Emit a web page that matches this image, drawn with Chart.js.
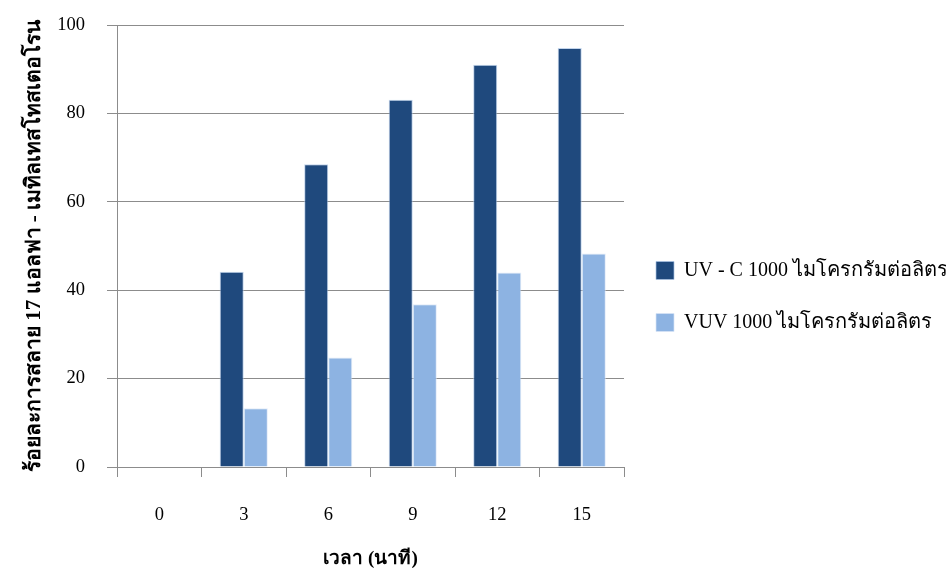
<!DOCTYPE html>
<html>
<head>
<meta charset="utf-8">
<script src="https://cdn.jsdelivr.net/npm/chart.js@4"></script>
<style>
  html, body { margin: 0; padding: 0; background: #fff; }
  #wrap { width: 946px; height: 568px; }
</style>
</head>
<body>
<div id="wrap"><canvas id="chart" width="946" height="568"></canvas></div>
<script>
// เวลา (นาที)
var minutes = ['0', '3', '6', '9', '12', '15'];
// ร้อยละการสลาย ของแต่ละวิธี
var uvc = [0, 44.2, 68.5, 83.1, 91.0, 94.8];
var vuv = [0, 13.3, 24.8, 36.8, 44.0, 48.3];
var yTicks = [0, 20, 40, 60, 80, 100];

var seriesNames = ['UV - C 1000 ไมโครกรัมต่อลิตร', 'VUV 1000 ไมโครกรัมต่อลิตร'];
var yTitle = 'ร้อยละการสลาย 17 แอลฟา - เมทิลเทสโทสเตอโรน';
var xTitle = 'เวลา (นาที)';

var serif = '"Liberation Serif", "Times New Roman", serif';
var axisGray = '#8c8c8c';

// legend column keeps a fixed width so the plot ends at the same place
var legendWidth = {
    id: 'legendWidth',
    beforeLayout: function (chart) {
        var lg = chart.legend;
        if (!lg || lg._fixedFit) return;
        var fit = lg.fit;
        lg.fit = function () {
            fit.call(this);
            this.width = 322;
        };
        lg._fixedFit = true;
    }
};

new Chart(document.getElementById('chart').getContext('2d'), {
    type: 'bar',
    data: {
        labels: minutes,
        datasets: [
            { label: seriesNames[0], data: uvc, backgroundColor: '#1f497d', borderColor: 'rgba(170,195,228,0.7)', borderWidth: 1, barPercentage: 1, categoryPercentage: 0.57 },
            { label: seriesNames[1], data: vuv, backgroundColor: '#8db3e2', borderColor: 'rgba(215,228,246,0.7)', borderWidth: 1, barPercentage: 1, categoryPercentage: 0.57 }
        ]
    },
    plugins: [legendWidth],
    options: {
        responsive: false,
        animation: false,
        layout: { padding: { top: 25, right: 0, left: 0, bottom: 0 } },
        plugins: {
            tooltip: { enabled: false },
            legend: {
                position: 'right',
                labels: {
                    color: '#000',
                    boxWidth: 18,
                    boxHeight: 18,
                    padding: 32,
                    font: { size: 20, family: serif }
                }
            }
        },
        scales: {
            x: {
                grid: { display: true, drawOnChartArea: false, drawTicks: true, tickLength: 10, color: axisGray, offset: true },
                border: { display: true, color: axisGray },
                ticks: { color: '#000', padding: 27, font: { size: 18.5, family: serif } },
                title: { display: true, text: xTitle, color: '#000', padding: { top: 0, bottom: -2 }, font: { size: 19, weight: 'bold', family: serif } },
                afterFit: function (s) { s.height = 101; }
            },
            y: {
                min: 0,
                max: 100,
                afterBuildTicks: function (s) { s.ticks = yTicks.map(function (v) { return { value: v }; }); },
                grid: { color: axisGray, tickLength: 10 },
                border: { display: true, color: axisGray },
                ticks: { color: '#000', padding: 22, font: { size: 18.5, family: serif } },
                title: { display: true, text: yTitle, color: '#000', padding: { top: 22, bottom: 0 }, font: { size: 21, weight: 'bold', family: serif } },
                afterFit: function (s) {
                    s.width = 117;
                    s.paddingTop = 12;
                    s.paddingBottom = 12;
                }
            }
        }
    }
});
</script>
</body>
</html>
